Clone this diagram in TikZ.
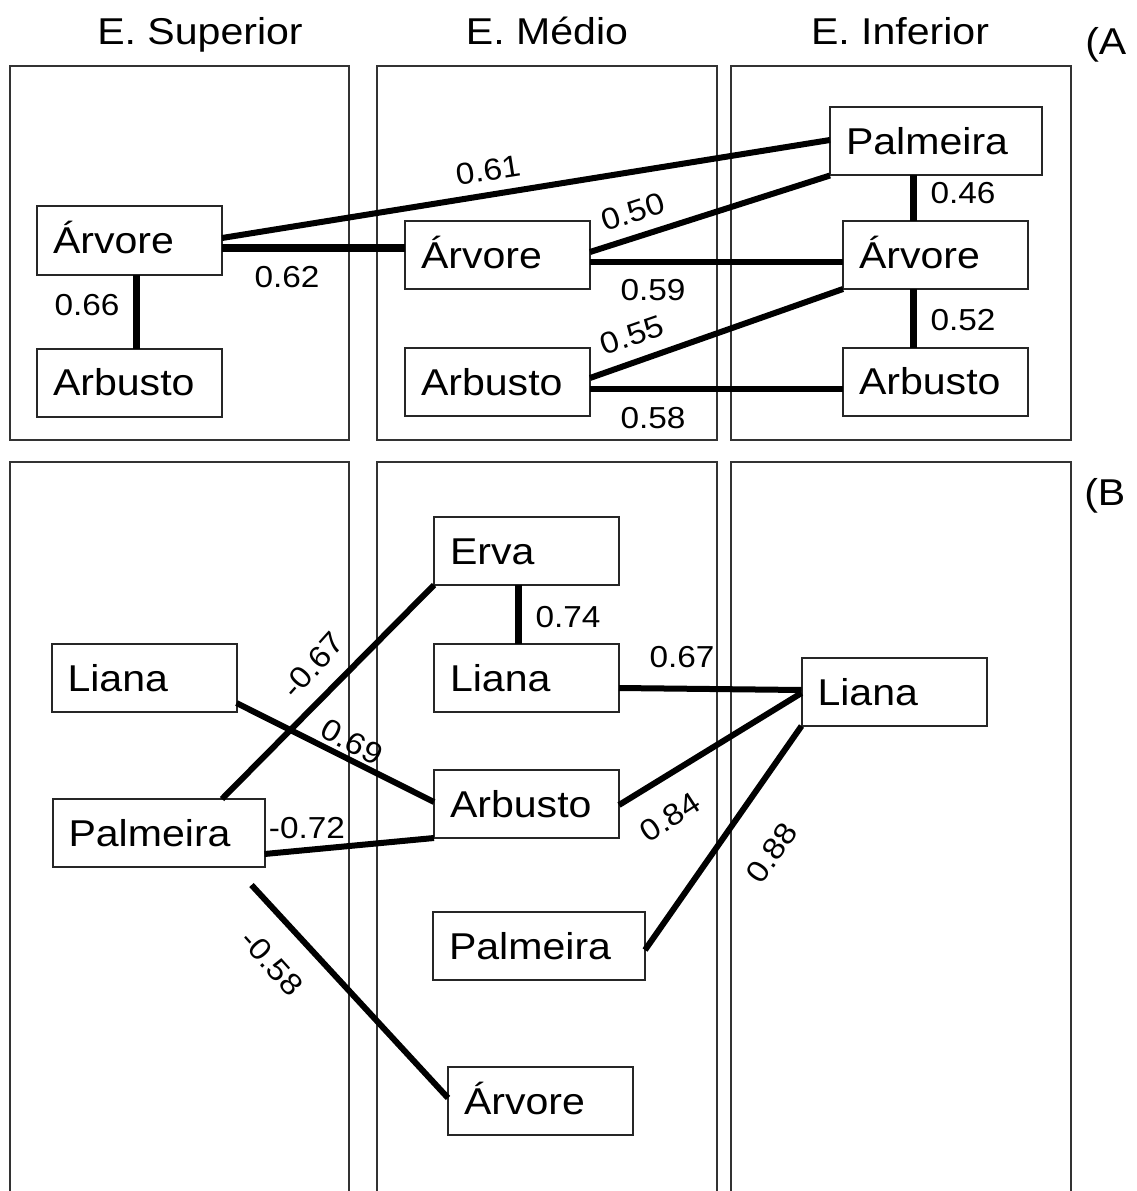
\documentclass[tikz,border=0pt]{standalone}
\usepackage{fontspec}
\setmainfont{Liberation Sans}[FakeStretch=1.1]
\usetikzlibrary{calc}
\begin{document}
\begin{tikzpicture}[x=0.75pt,y=-0.75pt,
  frame/.style={draw=black!80, line width=1.5pt},
  box/.style={draw=black!85, line width=1.5pt, minimum height=51pt, inner xsep=12pt, inner ysep=0pt,
    text width=#1, align=left, text height=20pt, text depth=0pt,
    font=\fontsize{28}{30}\selectfont, outer sep=0pt},
  box/.default=114.75pt,
  head/.style={font=\fontsize{28}{30}\selectfont, anchor=base, inner sep=0pt},
  lab/.style={font=\fontsize{22.75}{24}\selectfont, inner sep=0pt},
  link/.style={line width=4.5pt},
  strong/.style={line width=5.25pt}]
\useasboundingbox (0,0) rectangle (1137,1191);
\fill[white] (0,0) rectangle (1137,1191);

% headers
\node[head] (h1) at (200,45) {E. Superior};
\node[head] (h2) at (547,45) {E. Médio};
\node[head] (h3) at (900,45) {E. Inferior};
\node[head, anchor=base west] (pa) at (1085,55) {(A};
\node[head, anchor=base west] (pb) at (1084,505) {(B};

% frames panel A
\draw[frame] (10,66) rectangle (349,440);
\draw[frame] (377,66) rectangle (717,440);
\draw[frame] (731,66) rectangle (1071,440);
% frames panel B
\draw[frame] (10,1191) |- (349,462) -- (349,1191);
\draw[frame] (377,1191) |- (717,462) -- (717,1191);
\draw[frame] (731,1191) |- (1071,462) -- (1071,1191);

% panel A nodes
\node[box] (aA1) at (129.5,240.5) {Árvore};
\node[box] (aB1) at (129.5,382.5) {Arbusto};
\node[box] (aA2) at (497.5,255) {Árvore};
\node[box] (aB2) at (497.5,382) {Arbusto};
\node[box=135pt] (aP3) at (936,141.5) {Palmeira};
\node[box] (aA3) at (935.5,255) {Árvore};
\node[box] (aB3) at (935.5,381.5) {Arbusto};

% panel A connectors
\draw[strong] ($(aA1.south)+(6.5,0)$) -- ($(aB1.north)+(6.5,0)$);
\draw[strong] ($(aA1.east)+(0,7.5)$) -- ($(aA2.west)+(0,-7)$);
\draw[link] ($(aA1.east)+(0,-2.5)$) -- ($(aP3.west)+(0,-1.5)$);
\draw[link] ($(aA2.east)+(0,-3)$) -- (aP3.south west);
\draw[link] ($(aA2.east)+(0,7)$) -- ($(aA3.west)+(0,7)$);
\draw[link] ($(aB2.east)+(0,-4)$) -- (aA3.south west);
\draw[link] ($(aB2.east)+(0,7)$) -- ($(aB3.west)+(0,7.5)$);
\draw[strong] ($(aP3.south)+(-23,0)$) -- ($(aA3.north)+(-22.5,0)$);
\draw[strong] ($(aA3.south)+(-22.5,0)$) -- ($(aB3.north)+(-22.5,0)$);

% panel A labels
\node[lab, rotate=9] (l061) at (488,170) {0.61};
\node[lab] (l062) at (287,277) {0.62};
\node[lab] (l066) at (87,305) {0.66};
\node[lab, rotate=18] (l050) at (633,212) {0.50};
\node[lab] (l059) at (653,290) {0.59};
\node[lab, rotate=19] (l055) at (632,335) {0.55};
\node[lab] (l058) at (653,418) {0.58};
\node[lab] (l046) at (963,193) {0.46};
\node[lab] (l052) at (963,320) {0.52};

% panel B nodes
\node[box] (bL1) at (144,678) {Liana};
\node[box=135pt] (bP1) at (158.5,833) {Palmeira};
\node[box] (bE2) at (526.5,551) {Erva};
\node[box] (bL2) at (526.5,678) {Liana};
\node[box] (bB2) at (526.5,804) {Arbusto};
\node[box=135pt] (bP2) at (539,946) {Palmeira};
\node[box] (bA2) at (540.5,1101) {Árvore};
\node[box] (bL3) at (894,692) {Liana};
\coordinate (p1gap) at ($(bP1.south east)+(-13,18)$);

% panel B connectors
\draw[link] ($(bP1.north)+(63.5,0)$) -- (bE2.south west);
\draw[link] ($(bL1.east)+(0,25)$) -- ($(bB2.west)+(0,-2)$);
\draw[link] ($(bP1.east)+(0,21)$) -- (bB2.south west);
\draw[link] (p1gap) -- ($(bA2.west)+(0,-3)$);
\draw[strong] ($(bE2.south)+(-8.5,0)$) -- ($(bL2.north)+(-8.5,0)$);
\draw[link] ($(bL2.east)+(0,10)$) -- ($(bL3.west)+(0,-2)$);
\draw[link] ($(bB2.east)+(0,1)$) -- ($(bL3.west)+(0,1)$);
\draw[link] ($(bP2.east)+(0,4)$) -- (bL3.south west);

% panel B labels
\node[lab] (m074) at (568,617) {0.74};
\node[lab] (m067) at (682,657) {0.67};
\node[lab, rotate=48] (mn067) at (313,665) {-0.67};
\node[lab, rotate=-29] (m069) at (352,742) {0.69};
\node[lab] (mn072) at (307,828) {-0.72};
\node[lab, rotate=33] (m084) at (670,817) {0.84};
\node[lab, rotate=55] (m088) at (772,853) {0.88};
\node[lab, rotate=-48] (mn058) at (272,963) {-0.58};
\end{tikzpicture}
\end{document}
